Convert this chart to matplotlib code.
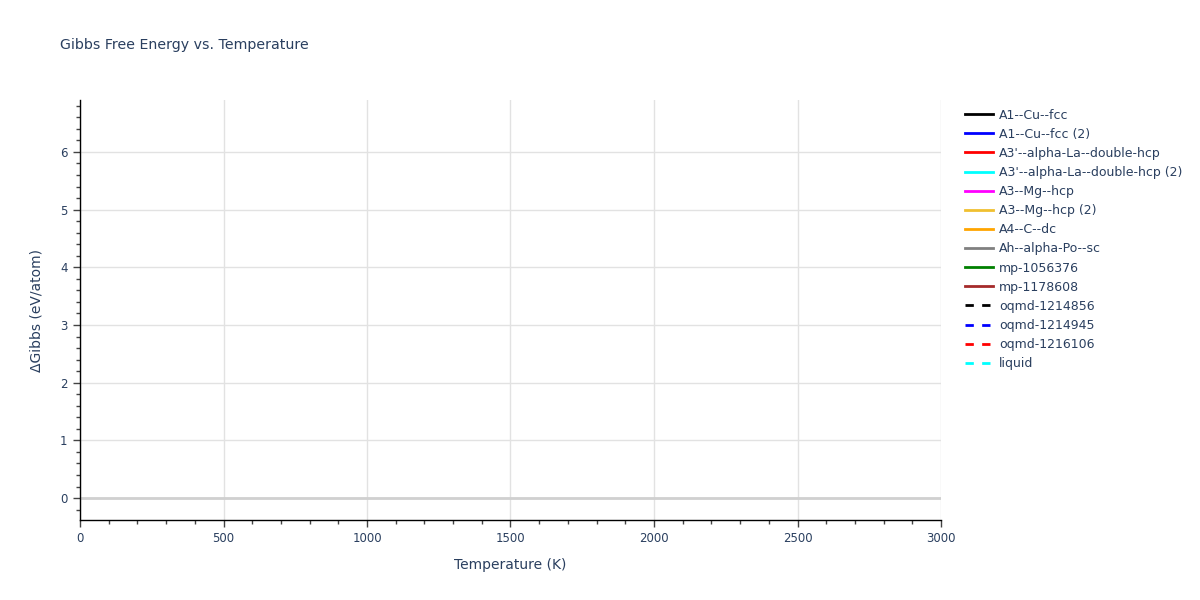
import numpy as np
import matplotlib.pyplot as plt
from matplotlib.ticker import MultipleLocator

plt.rcParams["font.family"] = ["DejaVu Sans"]

# phases shown in the legend; no data points are drawn for any of them
names = [
    "A1--Cu--fcc", "A1--Cu--fcc (2)", "A3'--alpha-La--double-hcp",
    "A3'--alpha-La--double-hcp (2)", "A3--Mg--hcp", "A3--Mg--hcp (2)",
    "A4--C--dc", "Ah--alpha-Po--sc", "mp-1056376", "mp-1178608",
    "oqmd-1214856", "oqmd-1214945", "oqmd-1216106", "liquid",
]
colors = [
    "black", "blue", "red", "cyan", "magenta", "#f0c030", "orange", "gray",
    "green", "brown", "black", "blue", "red", "cyan",
]
dashed = [False] * 10 + [True] * 4
temperature = [[] for _ in names]
dgibbs = [[] for _ in names]

text_col = "#2a3f5f"
fig = plt.figure(figsize=(12, 6), dpi=100)
ax = fig.add_axes([80 / 1200, 80 / 600, 861 / 1200, 420 / 600])

for n, c, d, t, g in zip(names, colors, dashed, temperature, dgibbs):
    ax.plot(t, g, color=c, lw=2, ls=(0, (3, 3)) if d else "-", label=n)

ax.set_xlim(0, 3000)
ax.set_ylim(-0.38, 6.9)
ax.xaxis.set_major_locator(MultipleLocator(500))
ax.xaxis.set_minor_locator(MultipleLocator(100))
ax.yaxis.set_major_locator(MultipleLocator(1))
ax.yaxis.set_minor_locator(MultipleLocator(0.2))
ax.grid(True, which="major", color="#e2e2e2", lw=1)
ax.axhline(0, color="#d0d0d0", lw=2, zorder=1)
ax.set_axisbelow(True)

for s in ("top", "right"):
    ax.spines[s].set_visible(False)
for s in ("left", "bottom"):
    ax.spines[s].set_color("black")
    ax.spines[s].set_linewidth(1)

ax.tick_params(which="major", direction="out", length=5, width=1,
               color="#444444", labelcolor=text_col, labelsize=8.5, pad=4)
ax.tick_params(which="minor", direction="out", length=3, width=1,
               color="#444444")

ax.set_xlabel("Temperature (K)", fontsize=10, color=text_col, labelpad=9)
ax.set_ylabel("ΔGibbs (eV/atom)", fontsize=10, color=text_col, labelpad=12)
fig.text(60 / 1200, 1 - 45 / 600, "Gibbs Free Energy vs. Temperature",
         fontsize=10.2, color=text_col, va="center", ha="left")

leg = fig.legend(loc="upper left", bbox_to_anchor=(965 / 1200, 1 - 108.5 / 600),
                 frameon=False, fontsize=9, handlelength=2.24,
                 handletextpad=0.48, labelspacing=0.49, borderaxespad=0,
                 borderpad=0)
for t in leg.get_texts():
    t.set_color(text_col)

fig.savefig("out.png", dpi=100)
